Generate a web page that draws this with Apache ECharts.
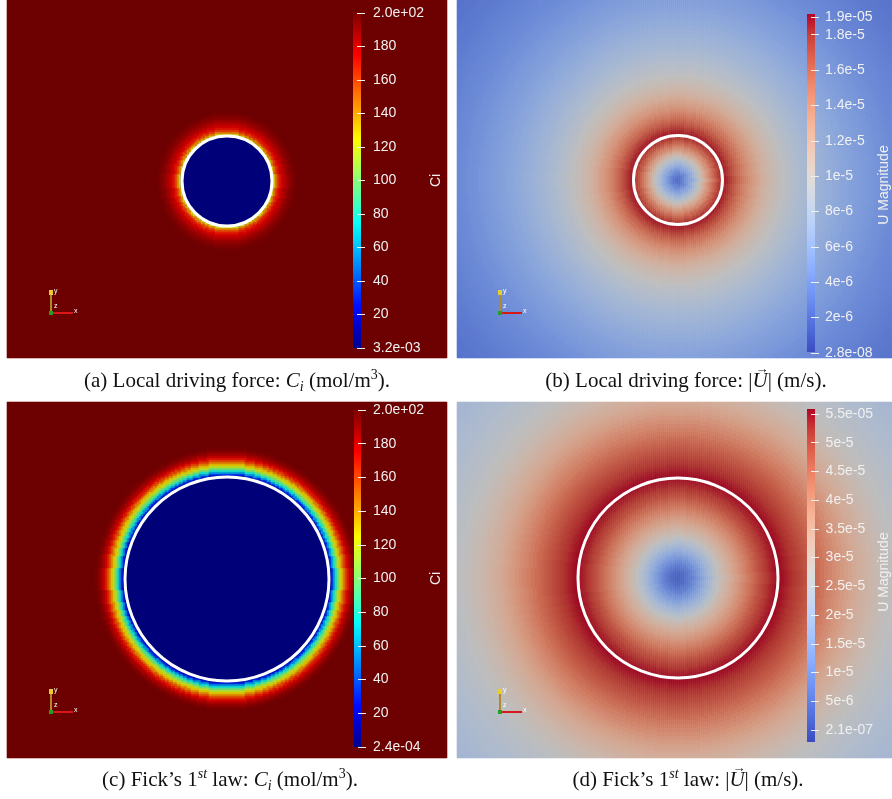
<!DOCTYPE html>
<html><head><meta charset="utf-8">
<script src="https://cdn.jsdelivr.net/npm/echarts@6/dist/echarts.min.js"></script>
<style>html,body{margin:0;padding:0;background:#fff}#c{width:892px;height:799px}</style>
</head><body><div id="c"></div>
<script>
// ---------------- DATA ----------------
// Radial profiles of each field: [radius from circle centre (px), value]
// (a) Local driving force, Ci (mol/m3)
const ciLocalProfile = [
  [0,0.0032],[44,0.0032],[46,120],[48,145],[50,160],[52,170],[54,177],[56,182],[58,186],
  [60,190],[62,193],[64,195.5],[66,197.5],[68,199],[70,200]
];
// (c) Fick's 1st law, Ci (mol/m3)
const ciFickProfile = [
  [0,0.00024],[100,0.00024],[102,5],[104,30],[106,55],[108,78],[110,98],[112,115],[114,130],
  [116,145],[118,158],[120,170],[122,180],[124,187],[126,192],[128,196],[130,198.5],[132,200]
];
// (b) Local driving force, |U| (1e-6 m/s)
const uLocalProfile = [
  [0,2.3],[2,2.5],[4,3.0],[6,3.6],[8,4.3],[10,5.0],[12,5.8],[14,6.5],[16,7.3],[18,8.1],
  [20,8.9],[22,9.8],[24,10.7],[26,11.6],[28,12.5],[30,13.4],[32,14.2],[34,15.0],[36,15.8],[38,16.5],
  [40,17.2],[42,17.8],[44,18.4],[46,18.4],[48,18.2],[50,17.8],[52,17.4],[54,16.9],[56,16.5],[58,16.0],
  [60,15.6],[62,15.2],[64,14.8],[66,14.4],[68,14.0],[70,13.6],[72,13.3],[74,13.0],[76,12.7],[78,12.4],
  [80,12.1],[82,11.8],[84,11.5],[86,11.2],[88,11.0],[90,10.8],[92,10.6],[94,10.4],[96,10.2],[98,10.0],
  [100,9.9],[104,9.5],[108,9.2],[112,8.9],[116,8.6],[120,8.3],[124,8.0],[128,7.8],[132,7.5],[136,7.3],
  [140,7.1],[144,6.9],[148,6.7],[152,6.5],[156,6.3],[160,6.1],[164,5.9],[168,5.8],[172,5.6],[176,5.4],
  [180,5.3],[184,5.1],[188,5.0],[192,4.8],[196,4.7],[200,4.5],[204,4.4],[208,4.3],[212,4.1],[216,4.0],
  [220,3.9],[224,3.8],[228,3.7],[232,3.6],[236,3.5],[240,3.4],[244,3.3],[248,3.2],[252,3.1],[256,3.0],
  [260,2.9],[264,2.9],[268,2.8],[272,2.7],[276,2.7],[280,2.6],[284,2.6]
];
// (d) Fick's 1st law, |U| (1e-6 m/s)
const uFickProfile = [
  [0,5],[2,5.2],[4,5.6],[6,6.2],[8,7],[10,8],[12,9],[14,10.2],[16,11.5],[18,12.7],
  [20,14],[22,15.4],[24,16.8],[26,18.2],[28,19.6],[30,21],[32,22.4],[34,23.7],[36,25],[38,26.2],
  [40,27.5],[42,28.8],[44,30],[46,31],[48,32],[50,33],[52,34],[54,35],[56,36],[58,37],
  [60,38],[62,39],[64,40],[66,41],[68,42],[70,43],[72,44],[74,45],[76,46],[78,47],
  [80,48],[82,48.8],[84,49.5],[86,50.3],[88,51],[90,51.8],[92,52.5],[94,53],[96,53.5],[98,54],
  [100,54.5],[102,54.3],[104,54],[106,53.5],[108,53],[110,52.5],[112,52],[114,51.5],[116,51],[118,50.5],
  [120,50],[122,49.5],[124,49],[126,48.5],[128,48],[130,47.5],[132,47],[134,46.4],[136,45.8],[138,45.2],
  [140,44.6],[144,43.4],[148,42.2],[152,41],[156,39.8],[160,38.6],[164,37.5],[168,36.4],[172,35.4],[176,34.4],
  [180,33.5],[184,32.6],[188,31.8],[192,31],[196,30.3],[200,29.6],[204,29],[208,28.4],[212,27.8],[216,27.3],
  [220,26.8],[224,26.3],[228,25.9],[232,25.5],[236,25.1],[240,24.7],[244,24.4],[248,24.1],[252,23.8],[256,23.5],
  [260,23.2],[264,22.9],[268,22.7],[272,22.5],[276,22.3],[280,22.1],[284,21.9],[288,21.7],[292,21.5]
];
// Colour bar ticks and labels
const ciTicks = [0,20,40,60,80,100,120,140,160,180,200];
const ciLocalTickLabels = ['3.2e-03','20','40','60','80','100','120','140','160','180','2.0e+02'];
const ciFickTickLabels  = ['2.4e-04','20','40','60','80','100','120','140','160','180','2.0e+02'];
const uLocalTicks = [0,2,4,6,8,10,12,14,16,18,19];            // 1e-6 m/s
const uLocalTickLabels = ['2.8e-08','2e-6','4e-6','6e-6','8e-6','1e-5','1.2e-5','1.4e-5','1.6e-5','1.8e-5','1.9e-05'];
const uFickTicks = [0,5,10,15,20,25,30,35,40,45,50,55];       // 1e-6 m/s
const uFickTickLabels = ['2.1e-07','5e-6','1e-5','1.5e-5','2e-5','2.5e-5','3e-5','3.5e-5','4e-5','4.5e-5','5e-5','5.5e-05'];
// Captions: [text, style]
const captionA = [['(a) Local driving force: ','n'],['C','it'],['i','sb'],[' (mol/m','n'],['3','sp'],[').','n']];
const captionB = [['(b) Local driving force: |','n'],['U','vec'],['| (m/s).','n']];
const captionC = [['(c) Fick\u2019s 1','n'],['st','spi'],[' law: ','n'],['C','it'],['i','sb'],[' (mol/m','n'],['3','sp'],[').','n']];
const captionD = [['(d) Fick\u2019s 1','n'],['st','spi'],[' law: |','n'],['U','vec'],['| (m/s).','n']];

// ---------------- STYLE / LAYOUT ----------------
const JET = ['#00008f','#0000c8','#000eff','#004dff','#008cff','#00caff','#0afff5','#49ffb6','#88ff78','#c7ff39','#fff900','#ffba00','#ff7b00','#ff3d00','#fd0000','#bf0000','#800000'];
const COOLWARM = ['#3b4cc0','#4d68d7','#6282ea','#779af7','#8db0fe','#a3c2ff','#b8d0f9','#ccd9ee','#dddddd','#ecd3c5','#f5c4ad','#f7b194','#f49a7b','#ec7f63','#de604d','#cb3e38','#b40426'];
const SHADE = 0.86;   // scene lighting darkens the rendered surface
function shade(hex) {
  const n = parseInt(hex.slice(1), 16);
  const r = Math.round(((n >> 16) & 255) * SHADE), g = Math.round(((n >> 8) & 255) * SHADE), b = Math.round((n & 255) * SHADE);
  return 'rgb(' + r + ',' + g + ',' + b + ')';
}

const panels = [
  {left:7, top:0, width:440, height:358, cell:2, center:[220,177], radius:45,
   profile:ciLocalProfile, min:0, max:200, interval:20, ticks:ciTicks, labels:ciLocalTickLabels, palette:JET,
   bar:[353,13,8,335], axisBox:[13,335], labelMargin:16, name:'Ci', nameGap:72, gizmo:[51,313]},
  {left:457, top:0, width:435, height:358, cell:2, center:[221,178], radius:44.5,
   profile:uLocalProfile, min:0, max:19, interval:2, ticks:uLocalTicks, labels:uLocalTickLabels, palette:COOLWARM,
   bar:[807,14,8,338], axisBox:[17,336], labelMargin:14, name:'U Magnitude', nameGap:66, gizmo:[500,313]},
  {left:7, top:402, width:440, height:356, cell:2, center:[220,179], radius:102,
   profile:ciFickProfile, min:0, max:200, interval:20, ticks:ciTicks, labels:ciFickTickLabels, palette:JET,
   bar:[354,410,7,337], axisBox:[410,337], labelMargin:16, name:'Ci', nameGap:72, gizmo:[51,712]},
  {left:457, top:402, width:435, height:356, cell:2, center:[221,180], radius:100,
   profile:uFickProfile, min:0, max:55, interval:5, ticks:uFickTicks, labels:uFickTickLabels, palette:COOLWARM,
   bar:[807,409,8,333], axisBox:[414,316], labelMargin:16, name:'U Magnitude', nameGap:66, gizmo:[500,712]}
];

const LABEL_COLOR = '#f0f0f0';
const grids = [], xAxes = [], yAxes = [], series = [], visualMaps = [], graphics = [];

// nearest read sample for every whole-pixel radius
function nearestTable(profile, maxR) {
  const t = [];
  for (let r = 0; r <= maxR; r++) {
    let best = profile[0], bd = Infinity;
    for (const s of profile) { const d = Math.abs(s[0] - r); if (d < bd) { bd = d; best = s; } }
    t.push(best[1]);
  }
  return t;
}

panels.forEach(function (p) {
  // --- field heatmap ---
  const cols = Math.round(p.width / p.cell), rows = Math.round(p.height / p.cell);
  const cw = p.width / cols, ch = p.height / rows;
  const table = nearestTable(p.profile, 400);
  const colCats = [], rowCats = [], data = [];
  for (let i = 0; i < cols; i++) colCats.push(i);
  for (let j = 0; j < rows; j++) rowCats.push(j);
  for (let i = 0; i < cols; i++) {
    for (let j = 0; j < rows; j++) {
      const dx = (i + 0.5) * cw - p.center[0], dy = (j + 0.5) * ch - p.center[1];
      data.push([i, j, table[Math.min(400, Math.round(Math.sqrt(dx * dx + dy * dy)))]]);
    }
  }
  let g = grids.length;
  grids.push({left:p.left, top:p.top, width:p.width, height:p.height});
  xAxes.push({type:'category', gridIndex:g, data:colCats, show:false});
  yAxes.push({type:'category', gridIndex:g, data:rowCats, show:false});
  const heatIdx = series.length;
  series.push({type:'heatmap', xAxisIndex:g, yAxisIndex:g, data:data, progressive:0, z:1,
               silent:true, emphasis:{disabled:true}, itemStyle:{borderWidth:0}});
  visualMaps.push({type:'continuous', show:false, seriesIndex:heatIdx, dimension:2,
                   min:p.min, max:p.max, inRange:{color:p.palette.map(shade)}});

  // --- white interface circle ---
  g = grids.length;
  grids.push({left:p.left, top:p.top, width:p.width, height:p.height});
  xAxes.push({type:'value', gridIndex:g, min:0, max:p.width, show:false});
  yAxes.push({type:'value', gridIndex:g, min:0, max:p.height, show:false});
  series.push({type:'custom', xAxisIndex:g, yAxisIndex:g, silent:true, clip:false, z:3,
    data:[[p.center[0], p.center[1], p.radius]],
    renderItem:function (params, api) {
      const c = api.coord([api.value(0), api.value(1)]);
      const r = api.size([api.value(2), 0])[0];
      return {type:'circle', shape:{cx:c[0], cy:c[1], r:r},
              style:{fill:'none', stroke:'#ffffff', lineWidth:3}};
    }});

  // --- colour bar ---
  g = grids.length;
  grids.push({left:p.bar[0], top:p.bar[1], width:p.bar[2], height:p.bar[3]});
  xAxes.push({type:'value', gridIndex:g, min:0, max:1, show:false});
  yAxes.push({type:'value', gridIndex:g, min:p.min, max:p.max, show:false});
  const stops = p.palette.map(function (c, k) { return {offset:k / (p.palette.length - 1), color:c}; });
  series.push({type:'custom', xAxisIndex:g, yAxisIndex:g, silent:true, data:[[0]], z:3,
    renderItem:function (params) {
      const cs = params.coordSys;
      return {type:'rect', shape:{x:cs.x, y:cs.y, width:cs.width, height:cs.height},
              style:{fill:new echarts.graphic.LinearGradient(0, 1, 0, 0, stops)}};
    }});

  // --- colour bar axis (ticks, labels, title) ---
  g = grids.length;
  grids.push({left:p.bar[0], top:p.axisBox[0], width:p.bar[2], height:p.axisBox[1]});
  xAxes.push({type:'value', gridIndex:g, min:0, max:1, show:false});
  yAxes.push({type:'value', gridIndex:g, min:p.min, max:p.max, interval:p.interval, z:10,
    position:'right', offset:-4,
    axisLine:{show:false}, splitLine:{show:false},
    axisTick:{show:true, length:8, lineStyle:{color:LABEL_COLOR, width:1}},
    axisLabel:{color:LABEL_COLOR, fontSize:14, fontFamily:'Liberation Sans', margin:p.labelMargin,
      showMinLabel:true, showMaxLabel:true,
      formatter:function (v) {
        const k = p.ticks.findIndex(function (t) { return Math.abs(t - v) < 1e-6; });
        return k >= 0 ? p.labels[k] : '';
      }},
    name:p.name, nameLocation:'middle', nameRotate:90, nameGap:p.nameGap,
    nameTextStyle:{color:LABEL_COLOR, fontSize:14, fontFamily:'Liberation Sans'}});
  series.push({type:'line', xAxisIndex:g, yAxisIndex:g, data:[], silent:true});

  // --- orientation gizmo ---
  const ox = p.gizmo[0], oy = p.gizmo[1];
  graphics.push({type:'group', silent:true, z:50, children:[
    {type:'line', z:50, shape:{x1:ox, y1:oy, x2:ox, y2:oy - 19}, style:{stroke:'#b08a2a', lineWidth:2}},
    {type:'rect', z:50, shape:{x:ox - 2, y:oy - 23, width:4, height:5}, style:{fill:'#e6cf2a'}},
    {type:'line', z:50, shape:{x1:ox, y1:oy, x2:ox + 22, y2:oy}, style:{stroke:'#d81818', lineWidth:2}},
    {type:'rect', z:50, shape:{x:ox - 2, y:oy - 2, width:4, height:4}, style:{fill:'#22a022'}},
    {type:'text', z:50, x:ox + 3, y:oy - 25, style:{text:'y', fill:'#ffffff', fontSize:7, fontFamily:'Liberation Sans'}},
    {type:'text', z:50, x:ox + 3, y:oy - 10, style:{text:'z', fill:'#ffffff', fontSize:7, fontFamily:'Liberation Sans'}},
    {type:'text', z:50, x:ox + 23, y:oy - 5, style:{text:'x', fill:'#ffffff', fontSize:7, fontFamily:'Liberation Sans'}}
  ]});
});

// ---------------- captions ----------------
const CAP_FAMILY = 'Liberation Serif';
const CAP = 21, CAP_SMALL = 14;
const capStyles = {
  n:{fontSize:CAP, fontStyle:'normal', lineHeight:26, verticalAlign:'middle'},
  it:{fontSize:CAP, fontStyle:'italic', lineHeight:26, verticalAlign:'middle'},
  vec:{fontSize:CAP, fontStyle:'italic', lineHeight:26, verticalAlign:'middle'},
  sb:{fontSize:CAP_SMALL, fontStyle:'italic', lineHeight:14, verticalAlign:'bottom'},
  sp:{fontSize:CAP_SMALL, fontStyle:'normal', lineHeight:16, verticalAlign:'top'},
  spi:{fontSize:CAP_SMALL, fontStyle:'italic', lineHeight:16, verticalAlign:'top'}
};
const rich = {};
Object.keys(capStyles).forEach(function (k) {
  rich[k] = Object.assign({fontFamily:CAP_FAMILY, fill:'#111'}, capStyles[k]);
});
const mctx = document.createElement('canvas').getContext('2d');
function textWidth(text, st) {
  mctx.font = st.fontStyle + ' normal ' + st.fontSize + 'px "' + CAP_FAMILY + '"';
  return mctx.measureText(text).width;
}
function caption(cx, cy, parts) {
  const widths = parts.map(function (pt) { return textWidth(pt[0], capStyles[pt[1]]); });
  const total = widths.reduce(function (a, b) { return a + b; }, 0);
  const x0 = cx - total / 2;
  const text = parts.map(function (pt) { return '{' + pt[1] + '|' + pt[0] + '}'; }).join('');
  graphics.push({type:'text', x:x0, y:cy, silent:true, z:50,
    style:{text:text, rich:rich, textAlign:'left', textVerticalAlign:'middle', fontFamily:CAP_FAMILY, fontSize:CAP}});
  let acc = 0;
  parts.forEach(function (pt, k) {
    if (pt[1] === 'vec') {
      graphics.push({type:'text', x:x0 + acc + widths[k] / 2 + 2, y:cy - 11, silent:true, z:50,
        style:{text:'\u2192', textAlign:'center', textVerticalAlign:'middle', fontFamily:CAP_FAMILY, fontSize:13, fill:'#111'}});
    }
    acc += widths[k];
  });
}
caption(237, 381, captionA);
caption(686, 381, captionB);
caption(230, 780, captionC);
caption(688, 780, captionD);

const chart = echarts.init(document.getElementById('c'), null, {renderer:'canvas'});
chart.setOption({
  animation:false,
  backgroundColor:'#ffffff',
  grid:grids, xAxis:xAxes, yAxis:yAxes,
  visualMap:visualMaps,
  series:series,
  graphic:{elements:graphics}
});
</script></body></html>
